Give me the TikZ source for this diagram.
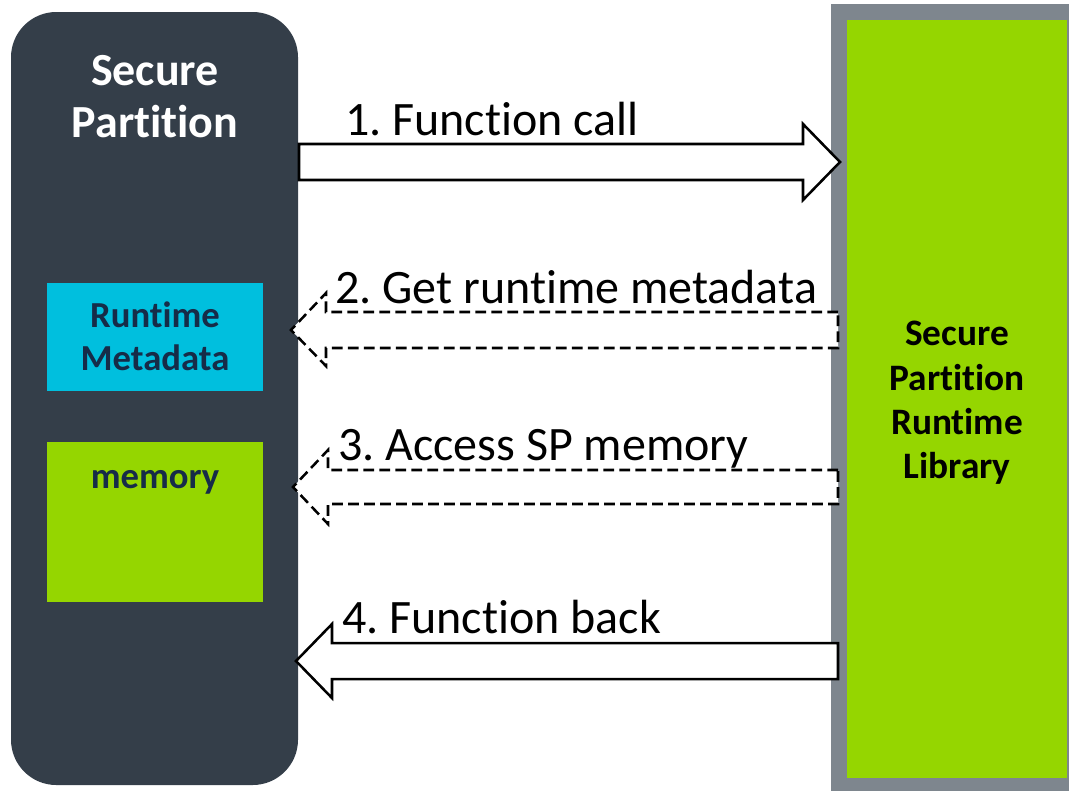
\documentclass[tikz,border=0pt]{standalone}
\usepackage{fontspec}
\setmainfont{Carlito}[Ligatures=NoCommon]
\frenchspacing
\definecolor{spdark}{RGB}{52,62,73}
\definecolor{spcyan}{RGB}{0,191,222}
\definecolor{spgreen}{RGB}{149,214,0}
\definecolor{spgray}{RGB}{126,134,142}
\definecolor{spnavy}{RGB}{22,44,72}
\begin{document}
\begin{tikzpicture}[x=0.75pt,y=-0.75pt,
  steplabel/.style={inner sep=0pt, anchor=base west, font=\fontsize{36}{43}\selectfont},
  titleline/.style={inner sep=0pt, anchor=base, text=white, font=\bfseries\fontsize{34.5}{40}\selectfont},
  libline/.style={inner sep=0pt, anchor=base, text=black, font=\bfseries\fontsize{28}{33}\selectfont},
  boxline/.style={inner sep=0pt, anchor=base, text=spnavy, font=\bfseries\fontsize{27.5}{32}\selectfont},
  solidflow/.style={draw=black, fill=white, line width=1.9pt, line join=miter},
  dashflow/.style={solidflow, dash pattern=on 8pt off 4pt}]
\useasboundingbox (0,0) rectangle (1069,790);
\fill[white] (0,0) rectangle (1069,790);

% Secure Partition container
\fill[spdark, rounded corners=34pt] (11,12) rectangle (298,785);
\node[titleline] (spt1) at (155,85) {Secure};
\node[titleline] (spt2) at (155,137) {Partition};

% Runtime metadata and memory regions inside the partition
\fill[spcyan] (47,283) rectangle (263,391);
\node[boxline] (rm1) at (155,327) {Runtime};
\node[boxline] (rm2) at (155,370) {Metadata};
\fill[spgreen] (47,442) rectangle (263,602);
\node[boxline] (mem) at (155,488) {memory};

% Runtime library block
\fill[spgray] (831,4) rectangle (1085,800);
\fill[spgreen] (847,20) rectangle (1067,778);
\node[libline] (lib1) at (957,345) {Secure};
\node[libline] (lib2) at (957,390) {Partition};
\node[libline] (lib3) at (957,434) {Runtime};
\node[libline] (lib4) at (957,478) {Library};

% 1. call into the library
\draw[solidflow] (299,144) -- (803,144) -- (803,124) -- (840,162) -- (803,200) -- (803,180) -- (299,180) -- cycle;
\node[steplabel] (l1) at (345,135) {1. Function call};

% 2. metadata lookup
\draw[dashflow] (838,312) -- (326,312) -- (326,293) -- (291,330) -- (326,366) -- (326,348) -- (838,348) -- cycle;
\node[steplabel] (l2) at (335,303) {2. Get runtime metadata};

% 3. memory access
\draw[dashflow] (838,470) -- (328,470) -- (328,450) -- (293,487) -- (328,524) -- (328,504) -- (838,504) -- cycle;
\node[steplabel] (l3) at (338,460) {3. Access SP memory};

% 4. return to the partition
\draw[solidflow] (838,643) -- (332,643) -- (332,624) -- (296,661) -- (332,698) -- (332,679) -- (838,679) -- cycle;
\node[steplabel] (l4) at (342,633) {4. Function back};
\end{tikzpicture}
\end{document}
